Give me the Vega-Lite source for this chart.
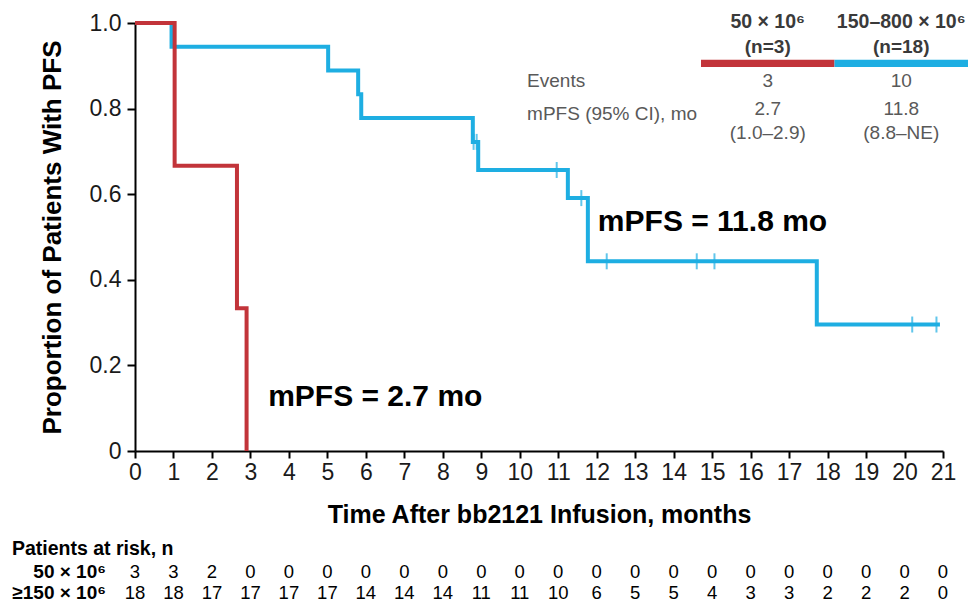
{
  "$schema": "https://vega.github.io/schema/vega-lite/v6.json",
  "width": 808,
  "height": 428,
  "autosize": {"type": "none"},
  "padding": {"left": 135, "top": 23, "right": 25, "bottom": 155},
  "background": "white",
  "config": {
    "view": {"stroke": null},
    "font": "Liberation Sans",
    "text": {"font": "Liberation Sans"},
    "axis": {"labelOverlap": false, "labelFlush": false, "grid": false}
  },
  "datasets": {
    "km": [
      {"dose": "150–800 × 10⁶", "time": 0, "surv": 1},
      {"dose": "150–800 × 10⁶", "time": 0.95, "surv": 0.9444},
      {"dose": "150–800 × 10⁶", "time": 5.02, "surv": 0.8889},
      {"dose": "150–800 × 10⁶", "time": 5.8, "surv": 0.8333},
      {"dose": "150–800 × 10⁶", "time": 5.88, "surv": 0.7778},
      {"dose": "150–800 × 10⁶", "time": 8.78, "surv": 0.7222},
      {"dose": "150–800 × 10⁶", "time": 8.92, "surv": 0.6566},
      {"dose": "150–800 × 10⁶", "time": 11.25, "surv": 0.5909},
      {"dose": "150–800 × 10⁶", "time": 11.77, "surv": 0.4432},
      {"dose": "150–800 × 10⁶", "time": 17.72, "surv": 0.2955},
      {"dose": "150–800 × 10⁶", "time": 20.92, "surv": 0.2955},
      {"dose": "50 × 10⁶", "time": 0, "surv": 1},
      {"dose": "50 × 10⁶", "time": 1.03, "surv": 0.6667},
      {"dose": "50 × 10⁶", "time": 2.65, "surv": 0.3333},
      {"dose": "50 × 10⁶", "time": 2.9, "surv": 0}
    ],
    "censor": [
      {"dose": "150–800 × 10⁶", "time": 8.8, "surv": 0.7222},
      {"dose": "150–800 × 10⁶", "time": 8.88, "surv": 0.7222},
      {"dose": "150–800 × 10⁶", "time": 10.96, "surv": 0.6566},
      {"dose": "150–800 × 10⁶", "time": 11.6, "surv": 0.5909},
      {"dose": "150–800 × 10⁶", "time": 12.26, "surv": 0.4432},
      {"dose": "150–800 × 10⁶", "time": 14.6, "surv": 0.4432},
      {"dose": "150–800 × 10⁶", "time": 15.06, "surv": 0.4432},
      {"dose": "150–800 × 10⁶", "time": 20.2, "surv": 0.2955},
      {"dose": "150–800 × 10⁶", "time": 20.83, "surv": 0.2955}
    ],
    "summary": [
      {"dose": "50 × 10⁶", "n": "(n=3)", "events": "3", "mpfs": "2.7", "ci": "(1.0–2.9)"},
      {"dose": "150–800 × 10⁶", "n": "(n=18)", "events": "10", "mpfs": "11.8", "ci": "(8.8–NE)"}
    ],
    "risk": [
      {"arm": "50 × 10⁶", "time": 0, "n": 3}, {"arm": "50 × 10⁶", "time": 1, "n": 3},
      {"arm": "50 × 10⁶", "time": 2, "n": 2}, {"arm": "50 × 10⁶", "time": 3, "n": 0},
      {"arm": "50 × 10⁶", "time": 4, "n": 0}, {"arm": "50 × 10⁶", "time": 5, "n": 0},
      {"arm": "50 × 10⁶", "time": 6, "n": 0}, {"arm": "50 × 10⁶", "time": 7, "n": 0},
      {"arm": "50 × 10⁶", "time": 8, "n": 0}, {"arm": "50 × 10⁶", "time": 9, "n": 0},
      {"arm": "50 × 10⁶", "time": 10, "n": 0}, {"arm": "50 × 10⁶", "time": 11, "n": 0},
      {"arm": "50 × 10⁶", "time": 12, "n": 0}, {"arm": "50 × 10⁶", "time": 13, "n": 0},
      {"arm": "50 × 10⁶", "time": 14, "n": 0}, {"arm": "50 × 10⁶", "time": 15, "n": 0},
      {"arm": "50 × 10⁶", "time": 16, "n": 0}, {"arm": "50 × 10⁶", "time": 17, "n": 0},
      {"arm": "50 × 10⁶", "time": 18, "n": 0}, {"arm": "50 × 10⁶", "time": 19, "n": 0},
      {"arm": "50 × 10⁶", "time": 20, "n": 0}, {"arm": "50 × 10⁶", "time": 21, "n": 0},
      {"arm": "≥150 × 10⁶", "time": 0, "n": 18}, {"arm": "≥150 × 10⁶", "time": 1, "n": 18},
      {"arm": "≥150 × 10⁶", "time": 2, "n": 17}, {"arm": "≥150 × 10⁶", "time": 3, "n": 17},
      {"arm": "≥150 × 10⁶", "time": 4, "n": 17}, {"arm": "≥150 × 10⁶", "time": 5, "n": 17},
      {"arm": "≥150 × 10⁶", "time": 6, "n": 14}, {"arm": "≥150 × 10⁶", "time": 7, "n": 14},
      {"arm": "≥150 × 10⁶", "time": 8, "n": 14}, {"arm": "≥150 × 10⁶", "time": 9, "n": 11},
      {"arm": "≥150 × 10⁶", "time": 10, "n": 11}, {"arm": "≥150 × 10⁶", "time": 11, "n": 10},
      {"arm": "≥150 × 10⁶", "time": 12, "n": 6}, {"arm": "≥150 × 10⁶", "time": 13, "n": 5},
      {"arm": "≥150 × 10⁶", "time": 14, "n": 5}, {"arm": "≥150 × 10⁶", "time": 15, "n": 4},
      {"arm": "≥150 × 10⁶", "time": 16, "n": 3}, {"arm": "≥150 × 10⁶", "time": 17, "n": 3},
      {"arm": "≥150 × 10⁶", "time": 18, "n": 2}, {"arm": "≥150 × 10⁶", "time": 19, "n": 2},
      {"arm": "≥150 × 10⁶", "time": 20, "n": 2}, {"arm": "≥150 × 10⁶", "time": 21, "n": 0}
    ]
  },
  "layer": [
    {
      "layer": [
        {
          "data": {"name": "km"},
          "transform": [{"filter": "datum.dose !== '50 × 10⁶'"}],
          "mark": {"type": "line", "interpolate": "step-after", "strokeWidth": 4},
          "encoding": {
            "x": {"field": "time", "type": "quantitative",
              "scale": {"domain": [0, 21], "nice": false, "zero": false},
              "axis": {"tickCount": 21, "tickMinStep": 1,
                "title": "Time After bb2121 Infusion, months", "titleFontSize": 25, "titleFontWeight": "bold",
                "titleColor": "#000", "titleFont": "Liberation Sans", "titlePadding": 18,
                "labelFontSize": 23, "labelColor": "#1a1a1a", "labelFont": "Liberation Sans", "labelPadding": 3,
                "labelFlush": false, "labelOverlap": false, "labelSeparation": 0, "grid": false,
                "domainColor": "#000", "domainWidth": 2, "tickColor": "#000", "tickWidth": 2, "tickSize": 7}},
            "y": {"field": "surv", "type": "quantitative",
              "scale": {"domain": [0, 1], "nice": false},
              "axis": {"values": [0, 0.2, 0.4, 0.6, 0.8, 1],
                "labelExpr": "datum.value === 0 ? '0' : format(datum.value, '.1f')",
                "title": "Proportion of Patients With PFS", "titleFontSize": 26, "titleFontWeight": "bold",
                "titleColor": "#000", "titleFont": "Liberation Sans", "titlePadding": 24,
                "labelFontSize": 23, "labelColor": "#1a1a1a", "labelFont": "Liberation Sans", "labelPadding": 6,
                "labelFlush": false, "grid": false,
                "domainColor": "#000", "domainWidth": 2, "tickColor": "#000", "tickWidth": 2, "tickSize": 8}},
            "color": {"field": "dose", "type": "nominal",
              "scale": {"domain": ["50 × 10⁶", "150–800 × 10⁶"], "range": ["#C2343A", "#1EAEE2"]},
              "legend": null}
          }
        },
        {
          "data": {"name": "km"},
          "transform": [{"filter": "datum.dose === '50 × 10⁶'"}],
          "mark": {"type": "line", "interpolate": "step-after", "strokeWidth": 4},
          "encoding": {
            "x": {"field": "time", "type": "quantitative"},
            "y": {"field": "surv", "type": "quantitative"},
            "color": {"field": "dose", "type": "nominal", "legend": null}
          }
        },
        {
          "data": {"name": "censor"},
          "mark": {"type": "tick", "orient": "vertical", "size": 16, "thickness": 2},
          "encoding": {
            "x": {"field": "time", "type": "quantitative"},
            "y": {"field": "surv", "type": "quantitative"},
            "color": {"field": "dose", "type": "nominal", "legend": null}
          }
        },
        {
          "data": {"values": [{}]},
          "mark": {"type": "text", "text": "mPFS = 11.8 mo", "align": "left", "baseline": "middle", "fontSize": 30, "fontWeight": "bold", "color": "#000"},
          "encoding": {"x": {"datum": 12.03, "type": "quantitative"}, "y": {"datum": 0.535, "type": "quantitative"}}
        },
        {
          "data": {"values": [{}]},
          "mark": {"type": "text", "text": "mPFS = 2.7 mo", "align": "left", "baseline": "middle", "fontSize": 30, "fontWeight": "bold", "color": "#000"},
          "encoding": {"x": {"datum": 3.46, "type": "quantitative"}, "y": {"datum": 0.126, "type": "quantitative"}}
        },
        {
          "data": {"values": [{}]},
          "mark": {"type": "text", "text": "Events", "align": "left", "baseline": "middle", "fontSize": 19, "color": "#595959"},
          "encoding": {"x": {"datum": 10.19, "type": "quantitative"}, "y": {"datum": 0.864, "type": "quantitative"}}
        },
        {
          "data": {"values": [{}]},
          "mark": {"type": "text", "text": "mPFS (95% CI), mo", "align": "left", "baseline": "middle", "fontSize": 19, "color": "#595959"},
          "encoding": {"x": {"datum": 10.19, "type": "quantitative"}, "y": {"datum": 0.787, "type": "quantitative"}}
        }
      ]
    },
    {
      "data": {"name": "summary"},
      "encoding": {
        "x": {"field": "dose", "type": "nominal",
          "scale": {"type": "band", "domain": ["50 × 10⁶", "150–800 × 10⁶"], "range": [566, 833], "paddingInner": 0, "paddingOuter": 0},
          "axis": null}
      },
      "layer": [
        {
          "mark": {"type": "bar", "width": {"band": 1}},
          "encoding": {
            "y": {"datum": 0.914, "type": "quantitative", "scale": {"domain": [0, 1], "nice": false}, "axis": null},
            "y2": {"datum": 0.897},
            "color": {"field": "dose", "type": "nominal", "legend": null}
          }
        },
        {
          "mark": {"type": "text", "baseline": "middle", "fontSize": 19.5, "fontWeight": "bold", "color": "#3a3a3a"},
          "encoding": {"y": {"datum": 1.003, "type": "quantitative"}, "text": {"field": "dose"}}
        },
        {
          "mark": {"type": "text", "baseline": "middle", "fontSize": 19, "fontWeight": "bold", "color": "#3a3a3a"},
          "encoding": {"y": {"datum": 0.944, "type": "quantitative"}, "text": {"field": "n"}}
        },
        {
          "mark": {"type": "text", "baseline": "middle", "fontSize": 19, "color": "#595959"},
          "encoding": {"y": {"datum": 0.864, "type": "quantitative"}, "text": {"field": "events"}}
        },
        {
          "mark": {"type": "text", "baseline": "middle", "fontSize": 19, "color": "#595959"},
          "encoding": {"y": {"datum": 0.8, "type": "quantitative"}, "text": {"field": "mpfs"}}
        },
        {
          "mark": {"type": "text", "baseline": "middle", "fontSize": 19, "color": "#595959"},
          "encoding": {"y": {"datum": 0.744, "type": "quantitative"}, "text": {"field": "ci"}}
        }
      ]
    },
    {
      "data": {"name": "risk"},
      "encoding": {
        "x": {"field": "time", "type": "quantitative", "scale": {"domain": [0, 21], "nice": false, "zero": false}, "axis": null},
        "y": {"datum": -0.283, "type": "quantitative", "scale": {"domain": [0, 1], "nice": false}, "axis": null}
      },
      "layer": [
        {
          "transform": [{"filter": "datum.arm === '50 × 10⁶'"}],
          "mark": {"type": "text", "baseline": "middle", "fontSize": 18.5, "color": "#000"},
          "encoding": {"text": {"field": "n", "type": "quantitative"}}
        },
        {
          "transform": [{"filter": "datum.arm !== '50 × 10⁶'"}],
          "mark": {"type": "text", "baseline": "middle", "fontSize": 18.5, "color": "#000"},
          "encoding": {"y": {"datum": -0.331, "type": "quantitative"}, "text": {"field": "n", "type": "quantitative"}}
        },
        {
          "transform": [{"filter": "datum.time === 0 && datum.arm === '50 × 10⁶'"}],
          "mark": {"type": "text", "align": "right", "baseline": "middle", "fontSize": 19, "fontWeight": "bold", "color": "#000"},
          "encoding": {"x": {"datum": -0.754, "type": "quantitative"}, "text": {"field": "arm"}}
        },
        {
          "transform": [{"filter": "datum.time === 0 && datum.arm !== '50 × 10⁶'"}],
          "mark": {"type": "text", "align": "right", "baseline": "middle", "fontSize": 19, "fontWeight": "bold", "color": "#000"},
          "encoding": {"x": {"datum": -0.754, "type": "quantitative"}, "y": {"datum": -0.331, "type": "quantitative"}, "text": {"field": "arm"}}
        },
        {
          "transform": [{"filter": "datum.time === 0 && datum.arm === '50 × 10⁶'"}],
          "mark": {"type": "text", "text": "Patients at risk, n", "align": "left", "baseline": "middle", "fontSize": 19.5, "fontWeight": "bold", "color": "#000"},
          "encoding": {"x": {"datum": -3.197, "type": "quantitative"}, "y": {"datum": -0.229, "type": "quantitative"}}
        }
      ]
    }
  ],
  "resolve": {"scale": {"x": "independent", "y": "independent"}}
}
